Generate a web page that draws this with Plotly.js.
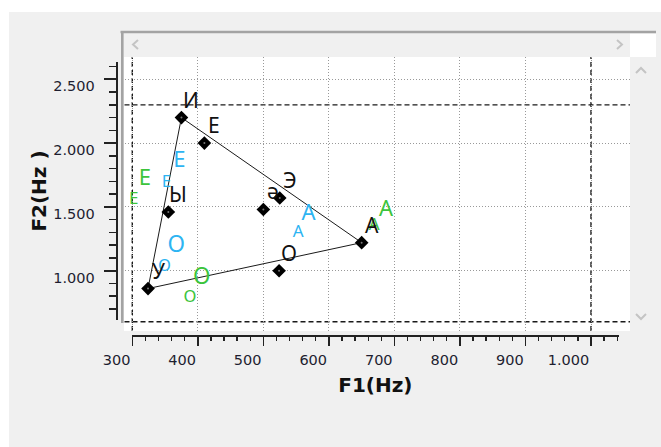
<!DOCTYPE html>
<html><head><meta charset="utf-8">
<script src="https://cdn.plot.ly/plotly-3.0.1.min.js"></script>
<style>html,body{margin:0;padding:0;background:#fff;overflow:hidden;} #chart{width:661px;height:447px;}</style>
</head><body><div id="chart"></div>
<script>
// ---- data ----
const vowels = ['И','Е','Ы','Э','ə','А','О','У'];
const f1 = [375, 410, 355, 525, 500, 650, 524, 324];
const f2 = [2200, 2000, 1460, 1570, 1480, 1220, 1000, 860];
const triangle = ['И','А','У','И'];

const blueLabels = ['Е','Е','А','А','О','О'];
const blueF1 = [372, 352, 569, 553, 367, 349];
const blueF2 = [1852, 1687, 1444, 1296, 1188, 1029];

const greenLabels = ['Е','Е','А','А','О','О'];
const greenF1 = [319, 302, 687, 669, 406, 388];
const greenF2 = [1716, 1554, 1473, 1350, 940, 789];

const limitF1 = [300, 1000];
const limitF2 = [600, 2300];

const xTickVals = [300,400,500,600,700,800,900,1000];
const xTickText = ['300','400','500','600','700','800','900','1.000'];
const yTickVals = [1000,1500,2000,2500];
const yTickText = ['1.000','1.500','2.000','2.500'];

// ---- styles ----
const labelSizes = [22,17,22,17,23,17];
const W = 661, H = 447;
const fx = p => p / W;
const fy = p => 1 - p / H;

const idx = v => vowels.indexOf(v);

const traces = [
  {x: triangle.map(v => f1[idx(v)]), y: triangle.map(v => f2[idx(v)]), mode:'lines',
   line:{color:'#1a1a1a', width:1}, hoverinfo:'skip'},
  {x: f1, y: f2, mode:'markers', marker:{symbol:'diamond', size:10.5, color:'#000'}, hoverinfo:'skip'},
  {x: f1, y: f2, mode:'markers', marker:{symbol:'circle', size:2, color:'#777'}, hoverinfo:'skip'},
  {x: blueF1, y: blueF2, text: blueLabels, mode:'text', textposition:'middle center',
   textfont:{family:'Noto Sans', size: labelSizes, color:'#2db4f2'}, hoverinfo:'skip'},
  {x: greenF1, y: greenF2, text: greenLabels, mode:'text', textposition:'middle center',
   textfont:{family:'Noto Sans', size: labelSizes, color:'#3cc43c'}, hoverinfo:'skip'},
  {x: [null], y: [null], xaxis:'x2', yaxis:'y2', mode:'markers', hoverinfo:'skip'}
];

const minorX = []; for (let v = 300; v <= 1040; v += 20) if (v % 100) minorX.push(v);
const minorY = []; for (let v = 700; v <= 2600; v += 100) if (v % 500) minorY.push(v);

const shapes = [];
shapes.push({type:'rect', xref:'paper', yref:'paper', x0:0, x1:1, y0:fy(12), y1:1, fillcolor:'#fff', line:{width:0}, layer:'below'});
shapes.push({type:'rect', xref:'paper', yref:'paper', x0:0, x1:fx(9), y0:0, y1:1, fillcolor:'#fff', line:{width:0}, layer:'below'});
shapes.push({type:'rect', xref:'paper', yref:'paper', x0:fx(124), x1:fx(630), y0:fy(331), y1:fy(57), fillcolor:'#fff', line:{width:0}, layer:'below'});
shapes.push({type:'rect', xref:'paper', yref:'paper', x0:fx(630), x1:fx(656), y0:fy(57), y1:fy(33.5), fillcolor:'#fff', line:{width:0}, layer:'below'});
shapes.push({type:'line', xref:'paper', yref:'paper', x0:fx(120.5), x1:fx(656), y0:fy(32), y1:fy(32), line:{color:'#a3a3a3', width:2.6}});
shapes.push({type:'line', xref:'paper', yref:'paper', x0:fx(122.3), x1:fx(122.3), y0:fy(31), y1:fy(323), line:{color:'#a3a3a3', width:2.6}});
function chev(pts){
  return 'M' + pts.map(p => fx(p[0]) + ',' + fy(p[1])).join(' L');
}
const chevs = [
  [[138,40],[133,44.5],[138,49]],
  [[617,40],[622,44.5],[617,49]],
  [[636,73],[641,68],[646,73]],
  [[636,314],[641,319],[646,314]]
];
chevs.forEach(c => shapes.push({type:'path', xref:'paper', yref:'paper', path: chev(c), line:{color:'#c4c4c4', width:2}}));
limitF1.forEach(v => shapes.push({type:'line', xref:'x', yref:'y domain', x0:v, x1:v, y0:0, y1:1,
  line:{color:'#1a1a1a', width:1.4, dash:'5px,3px'}, layer:'below'}));
limitF2.forEach(v => shapes.push({type:'line', xref:'x domain', yref:'y', x0:0, x1:1, y0:v, y1:v,
  line:{color:'#1a1a1a', width:1.4, dash:'5px,3px'}, layer:'below'}));

const annotations = vowels.map((v, i) => ({
  x: f1[i], y: f2[i], xref:'x', yref:'y', text: v, showarrow:false,
  xshift: 10, yshift: 18, font:{family:'Noto Sans', size:21, color:'#111'}
}));

const tickFont = {family:'DejaVu Sans', size:14.5, color:'#1e1e30'};
const titleFont = {family:'DejaVu Sans', size:20, color:'#111', weight:'bold'};

const layout = {
  width: W, height: H, margin:{l:0, r:0, t:0, b:0, pad:0},
  paper_bgcolor:'#f0f0f0', plot_bgcolor:'rgba(0,0,0,0)', showlegend:false,
  xaxis:{domain:[fx(124.5), fx(630)], range:[288.1, 1059.5], anchor:'y',
    tickmode:'array', tickvals: xTickVals, showticklabels:false, ticks:'',
    showgrid:true, gridcolor:'#999', gridwidth:1, griddash:'1px,2px', zeroline:false, showline:false, fixedrange:true},
  yaxis:{domain:[fy(331), fy(57)], range:[527.5, 2674.8], anchor:'x',
    tickmode:'array', tickvals: yTickVals, showticklabels:false, ticks:'',
    showgrid:true, gridcolor:'#999', gridwidth:1, griddash:'1px,2px', zeroline:false, showline:false, fixedrange:true},
  xaxis2:{domain:[fx(132.3), fx(618.5)], range:[300, 1042], anchor:'free', position: fy(335.7), side:'bottom',
    showgrid:false, zeroline:false, showline:true, linecolor:'#222', linewidth:2,
    tickmode:'array', tickvals: xTickVals, ticktext: xTickText, ticks:'outside', ticklen:9, tickwidth:1.6, tickcolor:'#222',
    ticklabelposition:'outside left', ticklabelstandoff:11, tickfont: tickFont,
    minor:{tickmode:'array', tickvals: minorX, ticks:'outside', ticklen:4.5, tickwidth:1.3, tickcolor:'#222', showgrid:false},
    title:{text:'F1(Hz)', font: titleFont, standoff:10}, fixedrange:true},
  yaxis2:{domain:[fy(320), fy(62)], range:[613.6, 2635.6], anchor:'free', position: fx(116.7), side:'left',
    showgrid:false, zeroline:false, showline:true, linecolor:'#222', linewidth:2,
    tickmode:'array', tickvals: yTickVals, ticktext: yTickText, ticks:'outside', ticklen:12, tickwidth:2, tickcolor:'#222',
    ticklabelposition:'outside', ticklabelshift:7, ticklabelstandoff:6, tickfont: tickFont,
    minor:{tickmode:'array', tickvals: minorY, ticks:'outside', ticklen:6.5, tickwidth:1.6, tickcolor:'#222', showgrid:false},
    title:{text:'F2(Hz )', font: titleFont, standoff:0}, fixedrange:true},
  shapes: shapes,
  annotations: annotations
};

Plotly.newPlot('chart', traces, layout, {displayModeBar:false, staticPlot:true});
</script>
</body></html>
